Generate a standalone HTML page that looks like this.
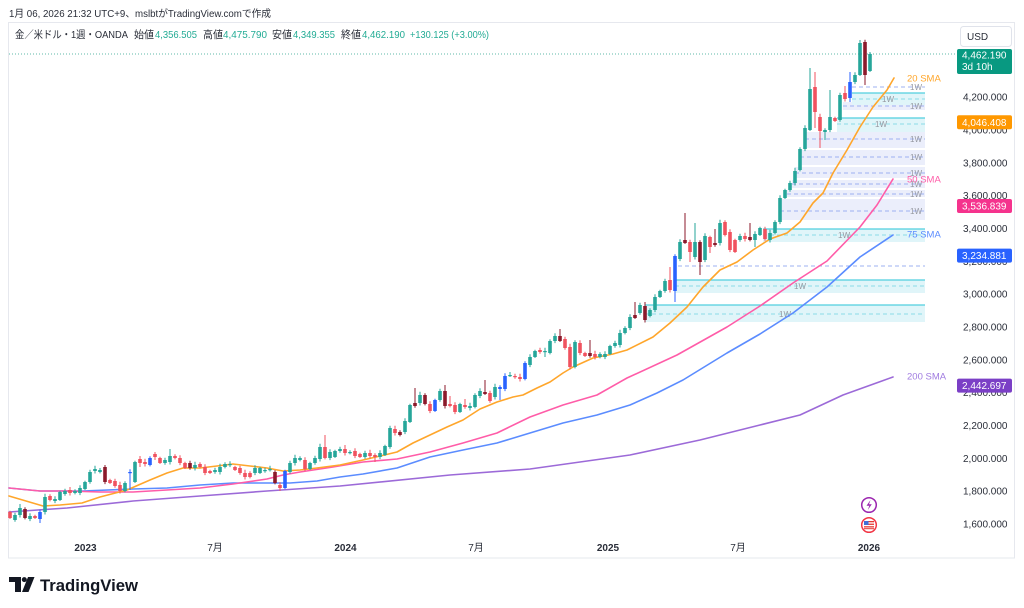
<!DOCTYPE html>
<html>
<head>
<meta charset="utf-8">
<style>
  html,body{margin:0;padding:0;background:#fff;}
  body{width:1024px;height:608px;overflow:hidden;}
  svg{display:block;}
  text{font-family:"Liberation Sans","Noto Sans CJK JP",sans-serif;}
</style>
</head>
<body>
<svg width="1024" height="608" viewBox="0 0 1024 608" xmlns="http://www.w3.org/2000/svg">
  <rect x="0" y="0" width="1024" height="608" fill="#ffffff"/>

  <!-- header -->
  <text x="9" y="17" font-size="10" fill="#2a2e39" textLength="262" lengthAdjust="spacingAndGlyphs">1月 06, 2026 21:32 UTC+9、mslbtがTradingView.comで作成</text>

  <!-- chart frame -->
  <rect x="8.5" y="22.5" width="1006" height="535.5" fill="none" stroke="#e6e8ee" stroke-width="1"/>

  <!-- legend -->
  <g font-size="10.5">
    <text x="15" y="38" fill="#2a2e39" textLength="113" lengthAdjust="spacingAndGlyphs">金／米ドル・1週・OANDA</text>
    <text x="134" y="38" fill="#2a2e39" textLength="20" lengthAdjust="spacingAndGlyphs">始値</text>
    <text x="155" y="38" fill="#22ab94" textLength="42" lengthAdjust="spacingAndGlyphs">4,356.505</text>
    <text x="203" y="38" fill="#2a2e39" textLength="20" lengthAdjust="spacingAndGlyphs">高値</text>
    <text x="223" y="38" fill="#22ab94" textLength="44" lengthAdjust="spacingAndGlyphs">4,475.790</text>
    <text x="272" y="38" fill="#2a2e39" textLength="20" lengthAdjust="spacingAndGlyphs">安値</text>
    <text x="293" y="38" fill="#22ab94" textLength="42" lengthAdjust="spacingAndGlyphs">4,349.355</text>
    <text x="341" y="38" fill="#2a2e39" textLength="20" lengthAdjust="spacingAndGlyphs">終値</text>
    <text x="362" y="38" fill="#22ab94" textLength="43" lengthAdjust="spacingAndGlyphs">4,462.190</text>
    <text x="410" y="38" fill="#22ab94" textLength="79" lengthAdjust="spacingAndGlyphs">+130.125 (+3.00%)</text>
  </g>

  <!-- current price dotted line -->
  <line x1="9" y1="54" x2="956" y2="54" stroke="#5fb8a8" stroke-width="1" stroke-dasharray="1 2"/>

  <!-- lavender boxes -->
  <g fill="#ebeefb">
    <rect x="843" y="102" width="82" height="8"/>
    <rect x="805" y="132" width="120" height="16"/>
    <rect x="800" y="150" width="125" height="15"/>
    <rect x="795" y="167" width="130" height="11"/>
    <rect x="792" y="180" width="133" height="8"/>
    <rect x="787" y="190" width="138" height="7"/>
    <rect x="780" y="199" width="145" height="21"/>
  </g>
  <g stroke="#9db0f2" stroke-width="1" stroke-dasharray="4 3">
    <line x1="852" y1="87" x2="925" y2="87"/>
    <line x1="843" y1="106" x2="925" y2="106"/>
    <line x1="805" y1="139" x2="925" y2="139"/>
    <line x1="800" y1="157" x2="925" y2="157"/>
    <line x1="795" y1="173" x2="925" y2="173"/>
    <line x1="792" y1="184" x2="925" y2="184"/>
    <line x1="787" y1="194" x2="925" y2="194"/>
    <line x1="780" y1="211" x2="925" y2="211"/>
    <line x1="678" y1="266" x2="925" y2="266"/>
  </g>
  <!-- cyan boxes -->
  <g fill="#e0f5f9">
    <rect x="852" y="93" width="73" height="12"/>
    <rect x="837" y="118" width="88" height="14"/>
    <rect x="763" y="229" width="162" height="13"/>
    <rect x="675" y="280" width="250" height="13"/>
    <rect x="645" y="305" width="280" height="17"/>
  </g>
  <g stroke="#4fcfdf" stroke-width="1.3">
    <line x1="852" y1="93" x2="925" y2="93"/>
    <line x1="837" y1="118" x2="925" y2="118"/>
    <line x1="763" y1="229" x2="925" y2="229"/>
    <line x1="675" y1="280" x2="925" y2="280"/>
    <line x1="645" y1="305" x2="925" y2="305"/>
  </g>
  <g stroke="#8adbe6" stroke-width="1" stroke-dasharray="4 3">
    <line x1="852" y1="99" x2="925" y2="99"/>
    <line x1="837" y1="124" x2="925" y2="124"/>
    <line x1="763" y1="235" x2="925" y2="235"/>
    <line x1="675" y1="286" x2="925" y2="286"/>
    <line x1="645" y1="314" x2="925" y2="314"/>
  </g>
  <!-- 1W labels -->
  <g font-size="8" fill="#9598a1">
    <text x="922" y="90" text-anchor="end">1W</text>
    <text x="922" y="109" text-anchor="end">1W</text>
    <text x="922" y="142" text-anchor="end">1W</text>
    <text x="922" y="160" text-anchor="end">1W</text>
    <text x="922" y="176" text-anchor="end">1W</text>
    <text x="922" y="187" text-anchor="end">1W</text>
    <text x="922" y="197" text-anchor="end">1W</text>
    <text x="922" y="214" text-anchor="end">1W</text>
    <text x="888" y="102" text-anchor="middle">1W</text>
    <text x="881" y="127" text-anchor="middle">1W</text>
    <text x="844" y="238" text-anchor="middle">1W</text>
    <text x="800" y="289" text-anchor="middle">1W</text>
    <text x="785" y="317" text-anchor="middle">1W</text>
  </g>

  <!-- moving averages -->
  <g fill="none" stroke-width="1.6" stroke-linejoin="round" stroke-linecap="round">
    <polyline stroke="#9c6ad8" points="9,512 67,508 133,501 200,496 267,491 340,486 450,475 530,469 630,455 700,440 760,425 800,415 843,395 893,377"/>
    <polyline stroke="#5b8cff" points="9,488 40,491 83,491 133,489 167,488 200,485 233,483 267,483 290,483 317,481 340,477 363,474 397,468 430,457 463,450 497,443 530,433 563,423 597,415 630,405 657,393 683,380 727,353 760,334 793,313 827,287 860,257 893,235"/>
    <polyline stroke="#ff5ca8" points="9,488 40,491 67,491 100,492 133,492 167,490 200,488 233,484 267,479 283,475 300,472 333,467 363,462 397,459 430,452 463,443 497,433 530,417 563,405 597,395 627,378 677,355 727,327 760,306 793,283 827,261 860,227 877,205 893,179"/>
    <polyline stroke="#ffa62b" points="9,496 43,506 60,505 82,503 100,497 127,490 150,480 167,473 183,468 200,468 217,466 233,464 250,466 267,468 283,471 300,470 317,468 340,465 363,460 397,452 413,443 430,435 447,427 463,420 480,409 497,402 513,397 523,395 537,388 550,382 563,373 573,367 593,358 613,354 627,350 653,337 670,323 687,307 703,287 720,270 737,262 753,250 770,239 787,233 800,222 813,203 823,193 833,173 847,150 860,127 873,107 887,90 894,78"/>
  </g>

  <!-- candles -->
  <g id="cd"></g>

  <!-- SMA labels -->
  <g font-size="9.5">
    <text x="907" y="81.5" fill="#ffa62b">20 SMA</text>
    <text x="907" y="182.5" fill="#ff5ca8">50 SMA</text>
    <text x="907" y="237.5" fill="#5b8cff">75 SMA</text>
    <text x="907" y="379.5" fill="#a07be0">200 SMA</text>
  </g>

  <!-- price axis labels -->
  <g font-size="10" fill="#2a2e39">
    <text x="963" y="100.5">4,200.000</text>
    <text x="963" y="133.5">4,000.000</text>
    <text x="963" y="166.3">3,800.000</text>
    <text x="963" y="199.1">3,600.000</text>
    <text x="963" y="231.9">3,400.000</text>
    <text x="963" y="264.8">3,200.000</text>
    <text x="963" y="297.6">3,000.000</text>
    <text x="963" y="330.5">2,800.000</text>
    <text x="963" y="363.3">2,600.000</text>
    <text x="963" y="396.1">2,400.000</text>
    <text x="963" y="429">2,200.000</text>
    <text x="963" y="461.8">2,000.000</text>
    <text x="963" y="494.7">1,800.000</text>
    <text x="963" y="527.5">1,600.000</text>
  </g>

  <!-- USD box -->
  <rect x="960.5" y="26.5" width="51" height="20" rx="3" fill="#fff" stroke="#e0e3eb"/>
  <text x="967" y="40" font-size="10" fill="#2a2e39">USD</text>

  <!-- price tags -->
  <rect x="957" y="49" width="55" height="25" rx="2" fill="#089981"/>
  <text x="962" y="58.5" font-size="10" fill="#fff">4,462.190</text>
  <text x="962" y="70" font-size="10" fill="#fff">3d 10h</text>

  <rect x="957" y="115.3" width="55" height="14" rx="2" fill="#ff9800"/>
  <text x="962" y="125.8" font-size="10" fill="#fff">4,046.408</text>

  <rect x="957" y="199" width="55" height="14" rx="2" fill="#f5338d"/>
  <text x="962" y="209.5" font-size="10" fill="#fff">3,536.839</text>

  <rect x="957" y="248.6" width="55" height="14" rx="2" fill="#2962ff"/>
  <text x="962" y="259.1" font-size="10" fill="#fff">3,234.881</text>

  <rect x="957" y="378.6" width="55" height="14" rx="2" fill="#7b3fc6"/>
  <text x="962" y="389.1" font-size="10" fill="#fff">2,442.697</text>

  <!-- time axis -->
  <g font-size="10" fill="#2a2e39" text-anchor="middle">
    <text x="85.5" y="551" font-weight="bold">2023</text>
    <text x="215" y="551">7月</text>
    <text x="345.5" y="551" font-weight="bold">2024</text>
    <text x="476" y="551">7月</text>
    <text x="608" y="551" font-weight="bold">2025</text>
    <text x="738" y="551">7月</text>
    <text x="869" y="551" font-weight="bold">2026</text>
  </g>

  <!-- event icons -->
  <circle cx="869" cy="505" r="7.3" fill="#fff" stroke="#9c27b0" stroke-width="1.5"/>
  <path d="M870.5 500 L866.5 505.8 H869.3 L867.8 510 L871.8 504.2 H869 Z" fill="#9c27b0"/>
  <circle cx="869" cy="525" r="7.3" fill="#fff" stroke="#f23645" stroke-width="1.5"/>
  <g>
    <rect x="864" y="521" width="10" height="8" fill="#fff"/>
    <rect x="864" y="521" width="10" height="1.3" fill="#e53935"/>
    <rect x="864" y="523.6" width="10" height="1.3" fill="#e53935"/>
    <rect x="864" y="526.2" width="10" height="1.3" fill="#e53935"/>
    <rect x="864" y="528.2" width="10" height="1" fill="#e53935"/>
    <rect x="864" y="521" width="4.5" height="4" fill="#3f6fd8"/>
  </g>

  <!-- TradingView logo -->
  <g fill="#131722">
    <rect x="9" y="577" width="12" height="5"/>
    <rect x="15" y="577" width="6" height="15"/>
    <circle cx="24.3" cy="579.6" r="2.5"/>
    <polygon points="28,577 34.5,577 28.5,592 22,592"/>
  </g>
  <text x="40" y="591" font-size="17" font-weight="bold" fill="#131722" textLength="98" lengthAdjust="spacingAndGlyphs">TradingView</text>
</svg>

<script>
const D=[
[512,518,'r'],[520,515,'g'],[515,508,'g',504],[509,518,'d'],[519,516,'g'],
[516,518,'r'],[519,512,'b',0,523],[512,497,'g'],[496,500,'r'],[501,499,'g'],
[500,492,'g'],[494,491,'g'],[490,493,'r',487],[493,491,'g'],[493,488,'g'],
[489,482,'g'],[482,472,'g'],[471,469,'g'],[472,470,'g',468],[467,482,'d',465],
[480,483,'r'],[481,486,'r'],[485,491,'r'],[491,483,'g'],[473,472,'b',0,490],
[482,462,'g'],[459,463,'r',456,467],[462,464,'r'],[465,458,'b'],[454,457,'r',452,460],
[458,463,'r'],[463,460,'g'],[462,456,'g',449],[456,458,'r'],[458,463,'r'],
[463,468,'r'],[463,468,'d'],[468,465,'g'],[464,467,'r'],[467,473,'r'],
[471,473,'r'],[472,470,'g'],[472,467,'g'],[467,464,'g'],[465,464,'g'],
[467,470,'r'],[468,473,'r'],[473,477,'r'],[473,477,'r'],[473,468,'g'],
[473,468,'g'],[471,470,'g'],[469,469,'g'],[472,483,'d'],[485,488,'r',0,491],
[488,471,'b'],[472,463,'g'],[463,458,'g'],[460,458,'g'],[460,469,'r'],
[469,463,'g'],[463,458,'g'],[459,447,'g'],[447,458,'r',435],[458,452,'g'],
[457,451,'g'],[451,449,'g'],[449,453,'r',445],[453,452,'g'],[451,456,'r'],
[454,457,'r'],[457,453,'g'],[453,456,'r'],[455,457,'r',0,462],[457,453,'g'],
[455,446,'g'],[447,428,'g'],[429,433,'r'],[432,435,'d'],[432,421,'g'],
[422,405,'g'],[403,406,'d',388],[403,395,'g'],[395,404,'d'],[404,411,'r'],
[411,400,'b'],[400,391,'g'],[391,406,'d',385],[404,406,'r',396],[405,412,'r'],
[412,404,'g'],[405,407,'r',399],[408,406,'g'],[407,395,'g'],[396,391,'g'],
[392,394,'d',380],[393,401,'r'],[397,387,'g'],[389,387,'b',0,400],[389,376,'b'],
[376,375,'g',372],[376,377,'r'],[377,379,'r'],[379,363,'b'],[365,357,'g'],
[357,351,'g'],[350,352,'r'],[352,351,'g',0,357],[353,341,'g'],[341,336,'g'],
[336,341,'d',329],[339,348,'r'],[347,367,'r'],[367,342,'g'],[343,353,'r'],
[353,356,'r'],[353,356,'d',340],[354,357,'r'],[357,354,'g'],[357,354,'g'],
[354,346,'g'],[346,343,'g'],[345,333,'g'],[333,328,'g'],[328,317,'g'],
[315,318,'d',302],[313,305,'g'],[306,320,'d',302],[316,310,'g'],[310,297,'g'],
[297,291,'g'],[291,281,'g'],[280,290,'r',267],[291,256,'b',0,302],[259,242,'g'],
[240,243,'d',213],[242,252,'r',0,262],[257,242,'g',223],[242,262,'d',0,275],[260,236,'g'],
[237,247,'r',0,253],[243,245,'d',229],[243,223,'g'],[222,235,'r'],[232,250,'r'],
[240,252,'r'],[240,236,'g'],[236,239,'r'],[237,240,'d',223],[240,234,'g',0,247],
[235,228,'g'],[229,239,'r'],[240,233,'g'],[233,222,'g'],[222,198,'g'],
[198,190,'g'],[190,183,'g'],[183,171,'g'],[170,149,'g'],[149,128,'g'],
[130,89,'g',68],[87,112,'r',72,128],[117,131,'r',0,148],[132,130,'g',0,140],[130,117,'g',90],
[118,121,'r'],[120,95,'g'],[93,99,'r',86],[98,82,'b',72,102],[82,75,'g'],
[75,43,'g',40],[42,75,'d',0,85],[71,54,'g',52,72]
];
const col={g:'#26a69a',r:'#f0525f',d:'#8b1a2b',b:'#2962ff'};
let s='';
D.forEach((a,i)=>{
  const x=10+5*i;
  let o=a[0],c=a[1],k=a[2],h=a[3],l=a[4];
  const top=Math.min(o,c),bot=Math.max(o,c);
  const w=1.2+((i*7)%5)*0.5;
  if(!h)h=top-w;
  if(!l)l=bot+w*0.8;
  const cl=col[k];
  s+='<line x1="'+x+'" x2="'+x+'" y1="'+h+'" y2="'+l+'" stroke="'+cl+'" stroke-width="1"/>';
  s+='<rect x="'+(x-1.8)+'" y="'+top+'" width="3.6" height="'+Math.max(bot-top,1.2)+'" fill="'+cl+'"/>';
});
document.getElementById('cd').innerHTML=s;
</script>
</body>
</html>
